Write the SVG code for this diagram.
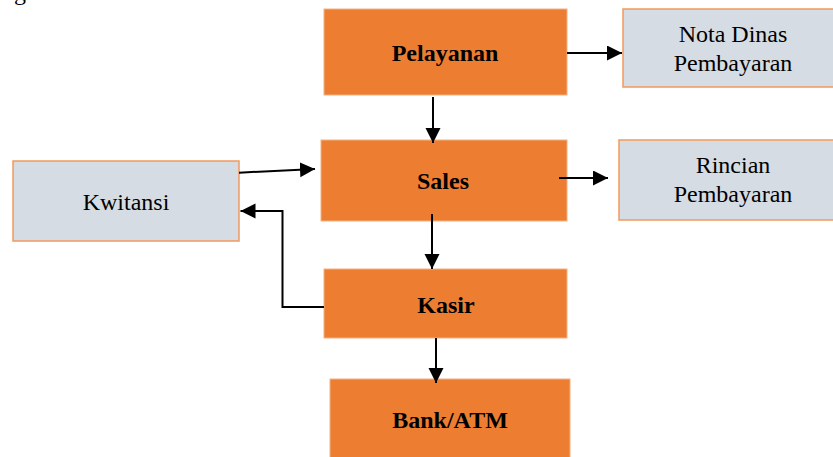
<svg xmlns="http://www.w3.org/2000/svg" width="833" height="457" viewBox="0 0 833 457">
<style>
.o{fill:#ED7D31;stroke:#F4B183;stroke-width:1}
.g{fill:#D6DCE4;stroke:#F1995E;stroke-width:1.5}
.tb{font-family:"Liberation Serif",serif;font-weight:bold;font-size:24px;fill:#000;text-anchor:middle}
.t{font-family:"Liberation Serif",serif;font-size:24px;fill:#000;text-anchor:middle}
.c{fill:none;stroke:#000;stroke-width:2}
</style>
<defs>
<marker id="ah" markerUnits="userSpaceOnUse" markerWidth="16" markerHeight="16" refX="15" refY="7.5" orient="auto">
<path d="M0,0 L15,7.5 L0,15 Z" fill="#000"/>
</marker>
</defs>
<rect width="833" height="457" fill="#fff"/>
<text class="t" x="20" y="0">g</text>
<g id="pelayanan"><rect class="o" x="324" y="9" width="243" height="86"/><text class="tb" x="445" y="61">Pelayanan</text></g>
<g id="nota"><rect class="g" x="623" y="9" width="214" height="78"/><text class="t" x="733" y="42">Nota Dinas</text><text class="t" x="733" y="71">Pembayaran</text></g>
<g id="sales"><rect class="o" x="321" y="140" width="246" height="81"/><text class="tb" x="443" y="189">Sales</text></g>
<g id="rincian"><rect class="g" x="619" y="140" width="218" height="80"/><text class="t" x="733" y="173">Rincian</text><text class="t" x="733" y="202">Pembayaran</text></g>
<g id="kwitansi"><rect class="g" x="13" y="161" width="226" height="80"/><text class="t" x="126" y="210">Kwitansi</text></g>
<g id="kasir"><rect class="o" x="324" y="269" width="243" height="69"/><text class="tb" x="446" y="313">Kasir</text></g>
<g id="bank"><rect class="o" x="330" y="379" width="240" height="82"/><text class="tb" x="450" y="428">Bank/ATM</text></g>
<g id="connectors">
<line class="c" x1="567" y1="53" x2="622" y2="53" marker-end="url(#ah)"/>
<line class="c" x1="433" y1="97" x2="433" y2="143" marker-end="url(#ah)"/>
<line class="c" x1="239" y1="172.7" x2="315" y2="169" marker-end="url(#ah)"/>
<line class="c" x1="559" y1="178" x2="608" y2="178" marker-end="url(#ah)"/>
<line class="c" x1="432" y1="214" x2="432" y2="269" marker-end="url(#ah)"/>
<polyline class="c" points="324,307 282.5,307 282.5,211 240.5,211" marker-end="url(#ah)"/>
<line class="c" x1="436" y1="338" x2="436" y2="383" marker-end="url(#ah)"/>
</g>
</svg>
